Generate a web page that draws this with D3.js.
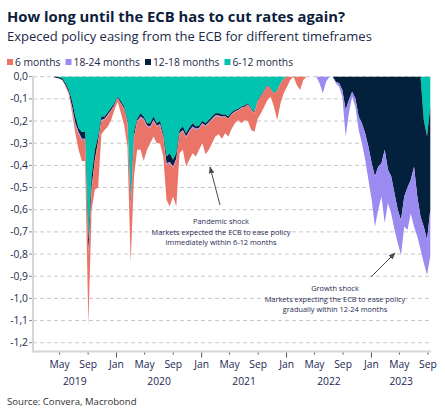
<!DOCTYPE html>
<html>
<head>
<meta charset="utf-8">
<script src="https://cdn.jsdelivr.net/npm/d3@7"></script>
<style>
  html, body { margin: 0; padding: 0; background: #fff; }
  svg { display: block; font-family: "Open Sans", "DejaVu Sans", sans-serif; }
</style>
</head>
<body>
<script>
const dates = [
  "2019-01-07","2019-01-21","2019-02-04","2019-02-18","2019-03-04","2019-03-18","2019-04-01","2019-04-15","2019-04-29","2019-05-13",
  "2019-05-27","2019-06-10","2019-06-24","2019-07-08","2019-07-22","2019-08-05","2019-08-19","2019-09-02","2019-09-16","2019-09-30",
  "2019-10-14","2019-10-28","2019-11-11","2019-11-25","2019-12-09","2019-12-23","2020-01-06","2020-01-20","2020-02-03","2020-02-17",
  "2020-03-02","2020-03-16","2020-03-30","2020-04-13","2020-04-27","2020-05-11","2020-05-25","2020-06-08","2020-06-22","2020-07-06",
  "2020-07-20","2020-08-03","2020-08-17","2020-08-31","2020-09-14","2020-09-28","2020-10-12","2020-10-26","2020-11-09","2020-11-23",
  "2020-12-07","2020-12-21","2021-01-04","2021-01-18","2021-02-01","2021-02-15","2021-03-01","2021-03-15","2021-03-29","2021-04-12",
  "2021-04-26","2021-05-10","2021-05-24","2021-06-07","2021-06-21","2021-07-05","2021-07-19","2021-08-02","2021-08-16","2021-08-30",
  "2021-09-13","2021-09-27","2021-10-11","2021-10-25","2021-11-08","2021-11-22","2021-12-06","2021-12-20","2022-01-03","2022-01-17",
  "2022-01-31","2022-02-14","2022-02-28","2022-03-14","2022-03-28","2022-04-11","2022-04-25","2022-05-09","2022-05-23","2022-06-06",
  "2022-06-20","2022-07-04","2022-07-18","2022-08-01","2022-08-15","2022-08-29","2022-09-12","2022-09-26","2022-10-10","2022-10-24",
  "2022-11-07","2022-11-21","2022-12-05","2022-12-19","2023-01-02","2023-01-16","2023-01-30","2023-02-13","2023-02-27","2023-03-13",
  "2023-03-27","2023-04-10","2023-04-24","2023-05-08","2023-05-22","2023-06-05","2023-06-19","2023-07-03","2023-07-17","2023-07-31",
  "2023-08-14","2023-08-28","2023-09-11"
];

const sixToTwelve = [
  0,0,0,0,0,0,0,0,-0.003,-0.008,
  -0.03,-0.06,-0.11,-0.18,-0.233,-0.25,-0.25,-0.74,-0.45,-0.33,
  -0.27,-0.18,-0.18,-0.16,-0.14,-0.12,-0.09,-0.11,-0.135,-0.195,
  -0.55,-0.25,-0.19,-0.165,-0.18,-0.21,-0.21,-0.18,-0.21,-0.2,
  -0.255,-0.36,-0.345,-0.375,-0.345,-0.24,-0.225,-0.255,-0.23,-0.21,
  -0.225,-0.22,-0.2,-0.21,-0.195,-0.18,-0.165,-0.165,-0.17,-0.17,
  -0.18,-0.16,-0.15,-0.145,-0.135,-0.13,-0.12,-0.143,-0.158,-0.105,
  -0.083,-0.06,-0.038,-0.053,-0.075,-0.06,-0.03,-0.008,0,0,
  0,0,0,0,0,0,0,0,0,0,
  0,0,0,0,0,0,0,0,0,0,
  0,0,0,0,0,0,0,0,0,0,
  0,0,0,0,0,0,0,0,0,0,
  -0.195,-0.27,-0.135
];

const twelveToEighteen = [
  0,0,0,0,0,0,0,-0.005,-0.005,-0.007,
  -0.01,-0.01,-0.025,-0.03,-0.017,-0.03,-0.03,-0.05,-0.05,-0.045,
  -0.02,-0.015,-0.01,-0.01,-0.01,-0.008,-0.005,-0.01,-0.01,-0.01,
  -0.03,-0.02,-0.01,-0.015,-0.01,-0.01,-0.015,-0.015,-0.01,-0.015,
  -0.015,-0.03,-0.04,-0.03,-0.025,-0.015,-0.015,-0.015,-0.015,-0.015,
  -0.01,-0.01,-0.01,-0.01,-0.01,-0.01,-0.01,-0.01,-0.01,-0.008,
  -0.008,-0.008,-0.007,-0.005,-0.005,-0.005,-0.005,-0.005,-0.005,-0.005,
  -0.004,-0.003,-0.002,-0.002,-0.002,-0.002,0,0,0,0,
  0,0,0,0,0,0,0,0,0,0,
  0,0,0,-0.023,-0.03,-0.06,-0.15,-0.105,-0.068,-0.098,
  -0.18,-0.21,-0.255,-0.316,-0.39,-0.45,-0.406,-0.39,-0.33,-0.42,
  -0.45,-0.526,-0.6,-0.647,-0.54,-0.5,-0.466,-0.406,-0.54,-0.632,
  -0.482,-0.467,-0.465
];

const eighteenToTwentyFour = [
  0,0,0,0,0,0,0,0,0,0,
  0,-0.002,-0.01,-0.01,-0.01,-0.005,-0.005,-0.01,-0.01,-0.005,
  -0.005,-0.005,-0.005,-0.005,-0.003,-0.002,-0.002,-0.002,-0.003,-0.005,
  -0.01,-0.005,-0.005,-0.005,-0.005,-0.005,-0.005,-0.005,-0.005,-0.005,
  -0.005,-0.01,-0.005,-0.005,-0.005,-0.005,-0.005,-0.005,-0.005,-0.005,
  -0.005,-0.005,-0.005,-0.005,-0.005,-0.005,-0.005,-0.003,-0.003,-0.002,
  -0.002,-0.002,-0.003,-0.002,-0.002,-0.002,-0.002,-0.002,-0.002,-0.002,
  -0.001,-0.001,0,0,0,0,0,0,0,0,
  0,0,0,0,0,0,0,0,-0.03,-0.075,
  -0.023,0,0,-0.007,-0.015,-0.03,-0.12,-0.06,-0.022,-0.037,
  -0.06,-0.09,-0.12,-0.15,-0.166,-0.227,-0.194,-0.15,-0.33,-0.15,
  -0.167,-0.164,-0.15,-0.158,-0.137,-0.19,-0.151,-0.271,-0.18,-0.148,
  -0.163,-0.158,-0.21
];

const sixMonths = [
  0,0,0,0,0,0,0,0,0,0,
  -0.005,-0.008,-0.02,-0.035,-0.07,-0.095,-0.095,-0.32,-0.09,-0.13,
  -0.205,-0.06,-0.045,-0.05,-0.042,-0.02,-0.016,-0.043,-0.072,-0.105,
  -0.25,-0.175,-0.125,-0.145,-0.185,-0.105,-0.07,-0.07,-0.075,-0.08,
  -0.085,-0.156,-0.196,-0.13,-0.211,-0.085,-0.085,-0.13,-0.125,-0.115,
  -0.12,-0.095,-0.085,-0.125,-0.12,-0.105,-0.09,-0.082,-0.097,-0.075,
  -0.08,-0.065,-0.05,-0.043,-0.068,-0.058,-0.073,-0.09,-0.083,-0.078,
  -0.077,-0.071,-0.065,-0.035,-0.058,-0.133,-0.09,-0.067,-0.045,-0.015,
  0,-0.038,-0.06,-0.015,0,0,0,0,0,0,
  0,0,0,0,0,0,0,0,0,0,
  0,0,0,0,0,0,0,0,0,0,
  0,0,0,0,0,0,0,0,0,0,
  0,0,0
];

// legend order as in the reference
const legendNames = ["6 months", "18-24 months", "12-18 months", "6-12 months"];
const legendColors = ["#ea7467", "#9b8bf0", "#03203d", "#00c3b0"];

const yTicks = [0, -0.1, -0.2, -0.3, -0.4, -0.5, -0.6, -0.7, -0.8, -0.9, -1.0, -1.1, -1.2];
const xTickDates = ["2019-05-01","2019-09-01","2020-01-01","2020-05-01","2020-09-01","2021-01-01","2021-05-01","2021-09-01",
                    "2022-01-01","2022-05-01","2022-09-01","2023-01-01","2023-05-01","2023-09-01"];
const yearLabels = ["2019", "2020", "2021", "2022", "2023"];

const W = 445, H = 416;
const plot = { left: 33, right: 431, top: 76.7, bottom: 351.6 };
const textColor = "#1c2a48";

const parse = d3.utcParse("%Y-%m-%d");
const rows = dates.map((d, i) => ({
  date: parse(d),
  "6-12 months": sixToTwelve[i],
  "12-18 months": twelveToEighteen[i],
  "18-24 months": eighteenToTwentyFour[i],
  "6 months": sixMonths[i]
}));

// stacked from zero outwards: 6-12, 12-18, 18-24, then 6 months at the bottom
const stackKeys = ["6-12 months", "12-18 months", "18-24 months", "6 months"];
const colorOf = {};
legendNames.forEach((n, i) => colorOf[n] = legendColors[i]);

const stacked = d3.stack().keys(stackKeys).offset(d3.stackOffsetDiverging)(rows);

const x = d3.scaleUtc()
  .domain([parse("2019-01-07"), parse("2023-09-14")])
  .range([plot.left, plot.right]);
const y = d3.scaleLinear()
  .domain([-1.24, 0])
  .range([plot.bottom, plot.top]);

const svg = d3.select("body").append("svg")
  .attr("width", W).attr("height", H);

function fitWidth(sel, w) {
  const len = sel.node().getComputedTextLength();
  const fs = parseFloat(sel.attr("font-size"));
  sel.attr("font-size", (fs * w / len).toFixed(2));
}

// titles
const title = svg.append("text")
  .attr("x", 7).attr("y", 22)
  .attr("font-size", 15).attr("font-weight", 700)
  .attr("fill", "#0d1d3b")
  .text("How long until the ECB has to cut rates again?");
fitWidth(title, 338);

const subtitle = svg.append("text")
  .attr("x", 7).attr("y", 41)
  .attr("font-size", 13)
  .attr("fill", textColor)
  .text("Expeced policy easing from the ECB for different timeframes");
fitWidth(subtitle, 365);

// legend
const legend = svg.append("g").attr("transform", "translate(7, 0)");
let lx = 0;
legendNames.forEach((name, i) => {
  legend.append("rect")
    .attr("x", lx).attr("y", 59)
    .attr("width", 6).attr("height", 6)
    .attr("fill", legendColors[i]);
  const t = legend.append("text")
    .attr("x", lx + 8).attr("y", 65.5)
    .attr("font-size", 10.3)
    .attr("fill", textColor)
    .text(name);
  lx += 8 + t.node().getComputedTextLength() + 5;
});

// grid
svg.append("g").selectAll("line")
  .data(yTicks)
  .join("line")
  .attr("x1", plot.left).attr("x2", plot.right)
  .attr("y1", d => y(d)).attr("y2", d => y(d))
  .attr("stroke", "#c8c8c8")
  .attr("stroke-dasharray", "4,3");

// areas
const area = d3.area()
  .x(d => x(d.data.date))
  .y0(d => y(d[0]))
  .y1(d => y(d[1]));

svg.append("g").selectAll("path")
  .data(stacked)
  .join("path")
  .attr("fill", d => colorOf[d.key])
  .attr("d", area);

// axes lines
svg.append("line")
  .attr("x1", plot.left).attr("x2", plot.left)
  .attr("y1", plot.top - 1).attr("y2", plot.bottom + 1)
  .attr("stroke", "#d6d6d6").attr("stroke-width", 2);
svg.append("line")
  .attr("x1", plot.left - 1).attr("x2", plot.right)
  .attr("y1", plot.bottom).attr("y2", plot.bottom)
  .attr("stroke", "#d6d6d6").attr("stroke-width", 2);

// y axis labels
const yAxis = svg.append("g");
yAxis.selectAll("line")
  .data(yTicks)
  .join("line")
  .attr("x1", plot.left - 4).attr("x2", plot.left - 1)
  .attr("y1", d => y(d)).attr("y2", d => y(d))
  .attr("stroke", "#8a8a8a");
yAxis.selectAll("text")
  .data(yTicks)
  .join("text")
  .attr("x", plot.left - 5)
  .attr("y", d => y(d))
  .attr("dy", "0.35em")
  .attr("text-anchor", "end")
  .attr("font-size", 10.3)
  .attr("fill", textColor)
  .text(d => d3.format(".1f")(d).replace("−", "-").replace(".", ","));

// x axis
const xTicks = xTickDates.map(parse);
const xAxis = svg.append("g");
xAxis.selectAll("line")
  .data(xTicks)
  .join("line")
  .attr("x1", d => x(d)).attr("x2", d => x(d))
  .attr("y1", plot.bottom + 1)
  .attr("y2", d => plot.bottom + (d.getUTCMonth() === 0 ? 6 : 3))
  .attr("stroke", "#555");
xAxis.selectAll("text.month")
  .data(xTicks)
  .join("text")
  .attr("class", "month")
  .attr("x", d => x(d))
  .attr("y", 368)
  .attr("text-anchor", "middle")
  .attr("font-size", 10.3)
  .attr("fill", "#241f55")
  .text(d3.utcFormat("%b"));

const [d0, d1] = x.domain();
xAxis.selectAll("text.year")
  .data(yearLabels)
  .join("text")
  .attr("class", "year")
  .attr("x", yr => {
    const a = new Date(Math.max(d0, Date.UTC(+yr, 0, 1)));
    const b = new Date(Math.min(d1, Date.UTC(+yr + 1, 0, 1)));
    return (x(a) + x(b)) / 2;
  })
  .attr("y", 384.5)
  .attr("text-anchor", "middle")
  .attr("font-size", 10.3)
  .attr("fill", "#241f55")
  .text(d => d);

// annotations
svg.append("defs").append("marker")
  .attr("id", "arrow")
  .attr("viewBox", "0 0 10 10")
  .attr("refX", 9).attr("refY", 5)
  .attr("markerWidth", 7).attr("markerHeight", 7)
  .attr("orient", "auto")
  .append("path")
  .attr("d", "M0,1 L10,5 L0,9 Z")
  .attr("fill", "#4a4a4a");

const notes = [
  { lines: ["Pandemic shock", "Markets expected the ECB to ease policy", "immediately within 6-12 months"],
    cx: 221, y: 224, from: [220, 205], to: [210, 167] },
  { lines: ["Growth shock", "Markets expecting the ECB to ease policy", "gradually within 12-24 months"],
    cx: 335, y: 291, from: [371, 277], to: [395, 253] }
];
notes.forEach(n => {
  svg.append("line")
    .attr("x1", n.from[0]).attr("y1", n.from[1])
    .attr("x2", n.to[0]).attr("y2", n.to[1])
    .attr("stroke", "#4a4a4a").attr("stroke-width", 1)
    .attr("marker-end", "url(#arrow)");
  n.lines.forEach((l, i) => {
    svg.append("text")
      .attr("x", n.cx).attr("y", n.y + i * 10.5)
      .attr("text-anchor", "middle")
      .attr("font-size", 7.4)
      .attr("fill", "#1f2a52")
      .text(l);
  });
});

// source
svg.append("text")
  .attr("x", 7).attr("y", 405)
  .attr("font-size", 9.6)
  .attr("fill", "#333")
  .text("Source: Convera, Macrobond");
</script>
</body>
</html>
